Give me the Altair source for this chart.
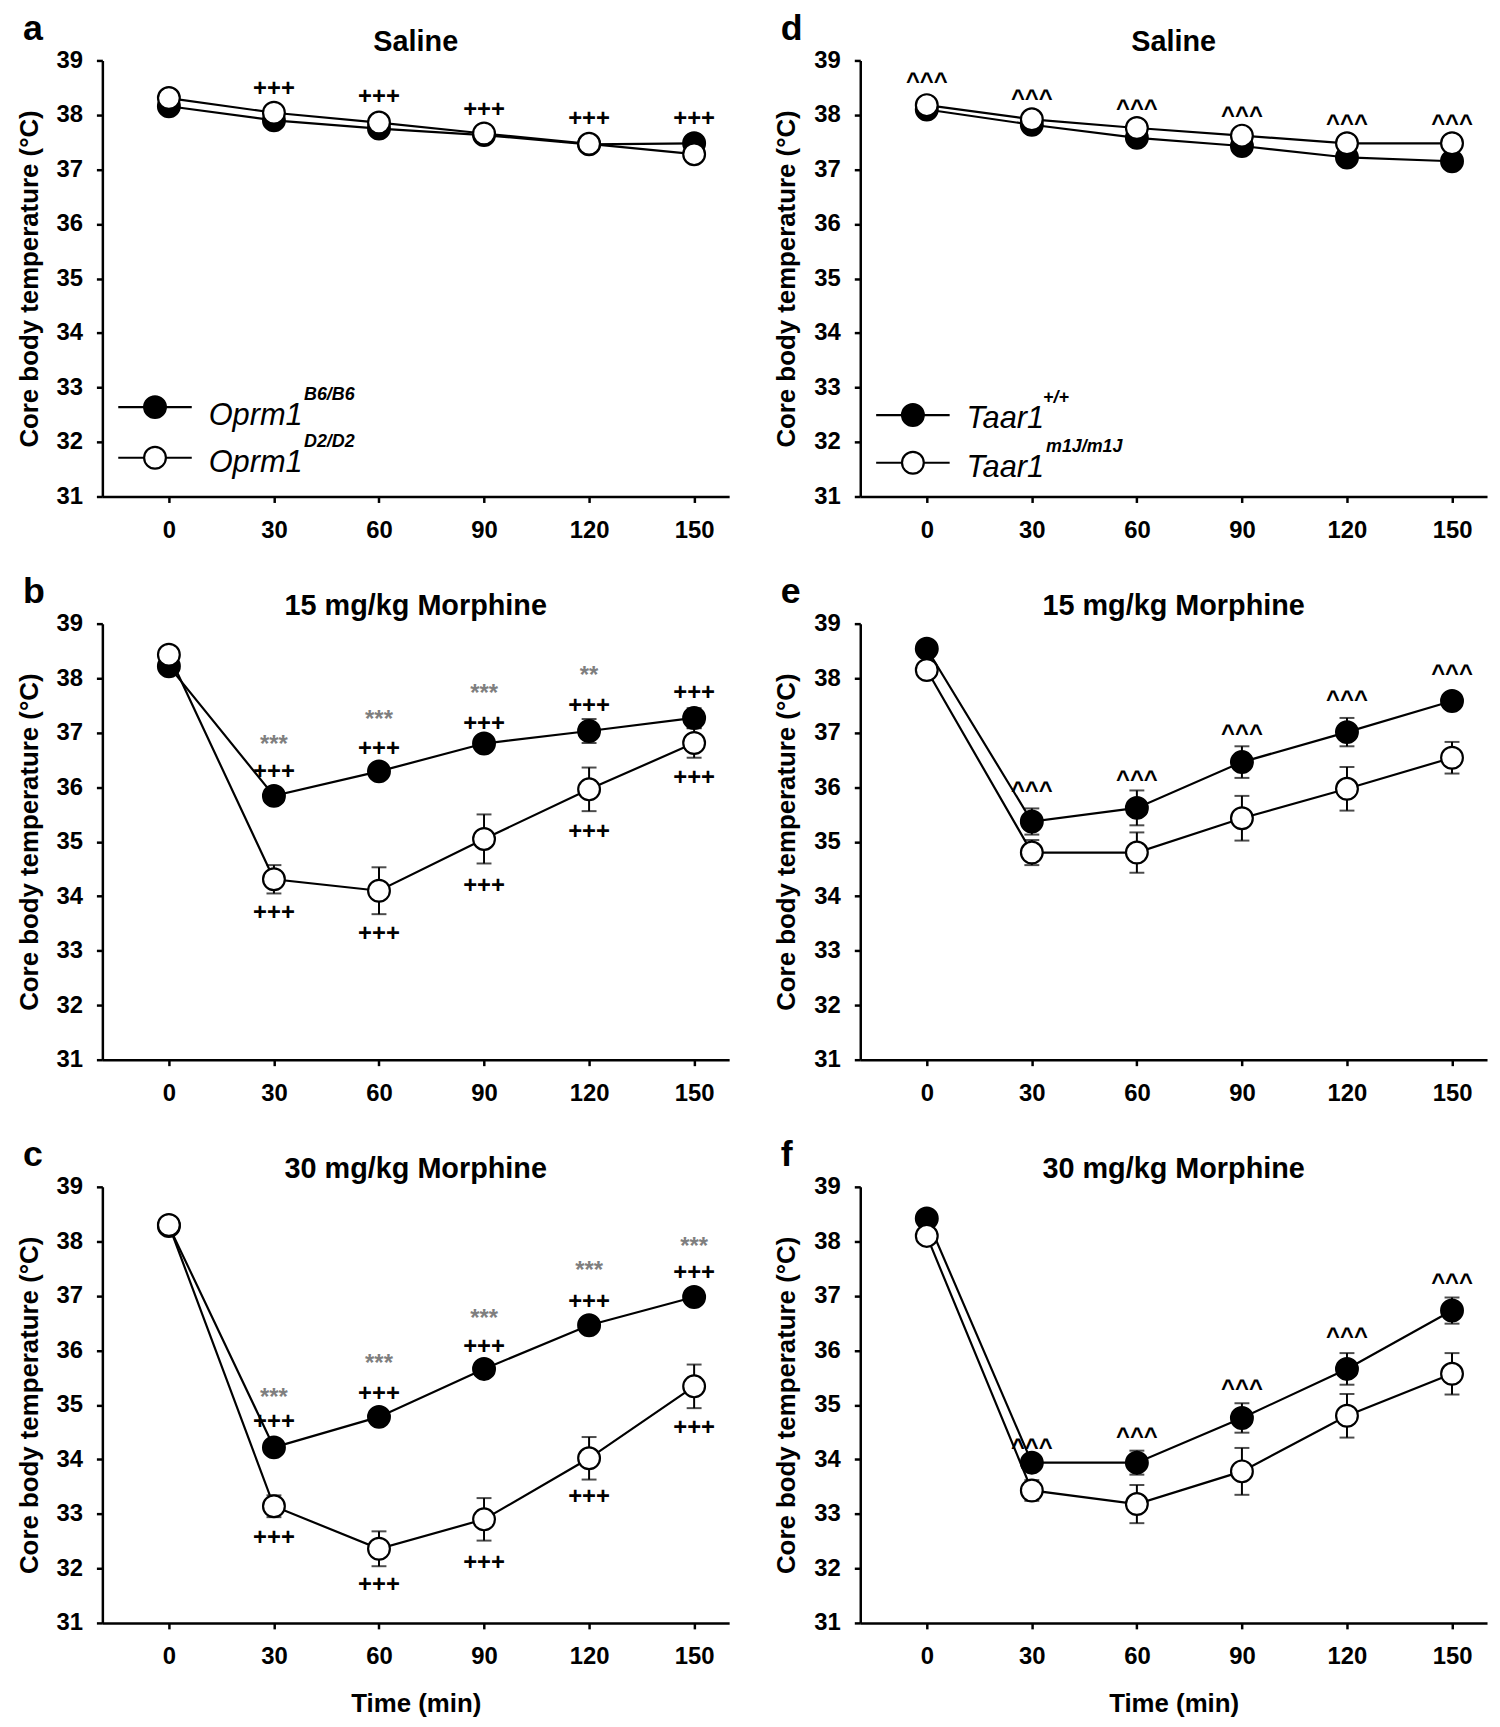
import altair as alt
import pandas as pd

FONT = "Liberation Sans"

times = [0, 30, 60, 90, 120, 150]
x_ticks = [0, 30, 60, 90, 120, 150]
y_ticks = [31, 32, 33, 34, 35, 36, 37, 38, 39]

# ---------------- Panel a : Saline, Oprm1 ----------------
a_black = [38.16, 37.90, 37.75, 37.63, 37.46, 37.48]
a_black_sem = [0.05, 0.05, 0.05, 0.05, 0.05, 0.06]
a_white = [38.31, 38.04, 37.86, 37.66, 37.47, 37.28]
a_white_sem = [0.05, 0.05, 0.05, 0.05, 0.05, 0.05]
a_plus_t = [30, 60, 90, 120, 150]
a_plus_y = [38.50, 38.34, 38.10, 37.94, 37.94]

# ---------------- Panel b : 15 mg/kg, Oprm1 ----------------
b_black = [38.22, 35.84, 36.29, 36.80, 37.03, 37.27]
b_black_sem = [0.05, 0.15, 0.12, 0.12, 0.22, 0.18]
b_white = [38.43, 34.31, 34.10, 35.05, 35.96, 36.81]
b_white_sem = [0.05, 0.26, 0.43, 0.45, 0.40, 0.27]
b_star_t = [30, 60, 90, 120]
b_star_y = [36.78, 37.24, 37.71, 38.04]
b_star_txt = ["***", "***", "***", "**"]
b_plus_up_t = [30, 60, 90, 120, 150]
b_plus_up_y = [36.29, 36.71, 37.17, 37.50, 37.75]
b_plus_dn_t = [30, 60, 90, 120, 150]
b_plus_dn_y = [33.71, 33.33, 34.21, 35.20, 36.19]

# ---------------- Panel c : 30 mg/kg, Oprm1 ----------------
c_black = [38.28, 34.22, 34.78, 35.66, 36.46, 36.98]
c_black_sem = [0.05, 0.12, 0.12, 0.12, 0.15, 0.12]
c_white = [38.30, 33.14, 32.36, 32.90, 34.02, 35.34]
c_white_sem = [0.05, 0.20, 0.32, 0.39, 0.39, 0.40]
c_star_t = [30, 60, 90, 120, 150]
c_star_y = [35.13, 35.75, 36.57, 37.45, 37.90]
c_star_txt = ["***", "***", "***", "***", "***"]
c_plus_up_t = [30, 60, 90, 120, 150]
c_plus_up_y = [34.70, 35.22, 36.08, 36.90, 37.43]
c_plus_dn_t = [30, 60, 90, 120, 150]
c_plus_dn_y = [32.58, 31.72, 32.12, 33.32, 34.59]

# ---------------- Panel d : Saline, Taar1 ----------------
d_black = [38.10, 37.82, 37.58, 37.43, 37.22, 37.15]
d_black_sem = [0.05, 0.05, 0.05, 0.05, 0.05, 0.05]
d_white = [38.18, 37.92, 37.76, 37.62, 37.48, 37.48]
d_white_sem = [0.05, 0.05, 0.05, 0.05, 0.05, 0.05]
d_caret_t = [0, 30, 60, 90, 120, 150]
d_caret_y = [38.69, 38.38, 38.20, 38.07, 37.92, 37.92]

# ---------------- Panel e : 15 mg/kg, Taar1 ----------------
e_black = [38.54, 35.37, 35.62, 36.46, 37.01, 37.58]
e_black_sem = [0.06, 0.24, 0.32, 0.29, 0.26, 0.10]
e_white = [38.15, 34.80, 34.80, 35.43, 35.97, 36.54]
e_white_sem = [0.06, 0.23, 0.37, 0.41, 0.40, 0.29]
e_caret_t = [30, 60, 90, 120, 150]
e_caret_y = [36.02, 36.23, 37.07, 37.69, 38.17]

# ---------------- Panel f : 30 mg/kg, Taar1 ----------------
f_black = [38.42, 33.94, 33.94, 34.76, 35.66, 36.73]
f_black_sem = [0.05, 0.10, 0.22, 0.27, 0.29, 0.24]
f_white = [38.10, 33.43, 33.18, 33.78, 34.80, 35.57]
f_white_sem = [0.05, 0.19, 0.35, 0.43, 0.40, 0.38]
f_caret_t = [30, 60, 90, 120, 150]
f_caret_y = [34.30, 34.51, 35.39, 36.34, 37.33]

oprm_labels = ["Oprm1", "Oprm1"]
oprm_sup = ["B6/B6", "D2/D2"]
taar_labels = ["Taar1", "Taar1"]
taar_sup = ["+/+", "m1J/m1J"]

W, H = 631, 439
XDOM = [-19, 160]
YDOM = [31, 39]
YTITLE = "Core body temperature (°C)"


def xenc(title):
    return alt.X(
        "t:Q",
        scale=alt.Scale(domain=XDOM, nice=False, zero=False),
        axis=alt.Axis(values=x_ticks, title=title),
    )


def yenc(field="v"):
    return alt.Y(
        f"{field}:Q",
        scale=alt.Scale(domain=YDOM, nice=False, zero=False),
        axis=alt.Axis(values=y_ticks, title=YTITLE),
    )


def text_layer(spec, xtitle):
    ts, ys, txts, size, color, dy = spec
    df = pd.DataFrame({"t": ts, "v": ys, "s": txts})
    return alt.Chart(df).mark_text(
        font=FONT, fontSize=size, fontWeight="bold", color=color,
        baseline="middle", align="center", dy=dy,
    ).encode(x=xenc(xtitle), y=yenc(), text="s:N")


def value_text(txt, x, y, size, weight="bold", style="normal", align="left",
               baseline="alphabetic"):
    df = pd.DataFrame({"s": [txt]})
    return alt.Chart(df).mark_text(
        font=FONT, fontSize=size, fontWeight=weight, fontStyle=style,
        align=align, baseline=baseline, color="black",
    ).encode(x=alt.value(x), y=alt.value(y), text="s:N")


def legend_layers(labels, sups, rows):
    layers = []
    fills = ["black", "white"]
    for i in range(2):
        ym, yb, xs = rows[i]
        df = pd.DataFrame({"k": [i]})
        layers.append(
            alt.Chart(df).mark_rule(color="black", strokeWidth=2.2).encode(
                x=alt.value(16), x2=alt.value(90), y=alt.value(ym)
            )
        )
        layers.append(
            alt.Chart(df).mark_point(
                shape="circle", size=480, fill=fills[i], stroke="black",
                strokeWidth=2.2, opacity=1, fillOpacity=1,
            ).encode(x=alt.value(53), y=alt.value(ym))
        )
        layers.append(value_text(labels[i], 107, yb, 31, weight="normal", style="italic"))
        layers.append(value_text(sups[i], xs, yb - 25, 18, weight="bold", style="italic"))
    return layers


def panel(letter, title, black, black_sem, white, white_sem, annots, legend=None,
          xtitle=None):
    rows = []
    for g, vals, sems in (("black", black, black_sem), ("white", white, white_sem)):
        for t, v, s in zip(times, vals, sems):
            rows.append({"g": g, "t": t, "v": v, "lo": v - s, "hi": v + s})
    df = pd.DataFrame(rows)
    base = alt.Chart(df)

    lines = base.mark_line(color="black", strokeWidth=2.2).encode(
        x=xenc(xtitle), y=yenc(), detail="g:N"
    )
    err = base.mark_rule(color="black", strokeWidth=2).encode(
        x=xenc(xtitle), y=yenc("lo"), y2="hi:Q"
    )
    cap_lo = base.mark_tick(color="black", orient="horizontal", size=15,
                            thickness=2).encode(x=xenc(xtitle), y=yenc("lo"))
    cap_hi = base.mark_tick(color="black", orient="horizontal", size=15,
                            thickness=2).encode(x=xenc(xtitle), y=yenc("hi"))
    pts_black = base.transform_filter(alt.datum.g == "black").mark_point(
        shape="circle", size=480, fill="black", stroke="black", strokeWidth=2.2,
        opacity=1, fillOpacity=1,
    ).encode(x=xenc(xtitle), y=yenc())
    pts_white = base.transform_filter(alt.datum.g == "white").mark_point(
        shape="circle", size=480, fill="white", stroke="black", strokeWidth=2.2,
        opacity=1, fillOpacity=1,
    ).encode(x=xenc(xtitle), y=yenc())

    layers = [lines, err, cap_lo, cap_hi, pts_black, pts_white]
    layers += [text_layer(s, xtitle) for s in annots]
    layers.append(value_text(letter, -80, -21, 36, weight="bold"))
    layers.append(value_text(title, W / 2, -9, 29, weight="bold", align="center"))
    if legend is not None:
        layers += legend
    return alt.layer(*layers).properties(width=W, height=H)


PLUS, STAR, CARET = 24, 24, 24
GRAY = "#7f7f7f"

pa = panel(
    "a", "Saline", a_black, a_black_sem, a_white, a_white_sem,
    [(a_plus_t, a_plus_y, ["+++"] * len(a_plus_t), PLUS, "black", 1)],
    legend=legend_layers(oprm_labels, oprm_sup,
                         [(349, 367, 203), (400, 414, 203)]),
)
pb = panel(
    "b", "15 mg/kg Morphine", b_black, b_black_sem, b_white, b_white_sem,
    [
        (b_star_t, b_star_y, b_star_txt, STAR, GRAY, 0),
        (b_plus_up_t, b_plus_up_y, ["+++"] * len(b_plus_up_t), PLUS, "black", 1),
        (b_plus_dn_t, b_plus_dn_y, ["+++"] * len(b_plus_dn_t), PLUS, "black", 1),
    ],
)
pc = panel(
    "c", "30 mg/kg Morphine", c_black, c_black_sem, c_white, c_white_sem,
    [
        (c_star_t, c_star_y, c_star_txt, STAR, GRAY, 0),
        (c_plus_up_t, c_plus_up_y, ["+++"] * len(c_plus_up_t), PLUS, "black", 1),
        (c_plus_dn_t, c_plus_dn_y, ["+++"] * len(c_plus_dn_t), PLUS, "black", 1),
    ],
    xtitle="Time (min)",
)
pd_ = panel(
    "d", "Saline", d_black, d_black_sem, d_white, d_white_sem,
    [(d_caret_t, d_caret_y, ["^^^"] * len(d_caret_t), CARET, "black", 5)],
    legend=legend_layers(taar_labels, taar_sup,
                         [(357, 370, 184), (405, 419, 187)]),
)
pe = panel(
    "e", "15 mg/kg Morphine", e_black, e_black_sem, e_white, e_white_sem,
    [(e_caret_t, e_caret_y, ["^^^"] * len(e_caret_t), CARET, "black", 5)],
)
pf = panel(
    "f", "30 mg/kg Morphine", f_black, f_black_sem, f_white, f_white_sem,
    [(f_caret_t, f_caret_y, ["^^^"] * len(f_caret_t), CARET, "black", 5)],
    xtitle="Time (min)",
)

chart = alt.concat(
    pa, pd_, pb, pe, pc, pf,
    columns=2,
    spacing={"row": 128, "column": 132},
    bounds="flush",
).configure(
    font=FONT,
    padding={"left": 8, "top": -3, "right": 5, "bottom": 5},
).configure_view(
    stroke=None,
).configure_axis(
    grid=False,
    domainColor="black",
    domainWidth=2.5,
    tickColor="black",
    tickWidth=2.5,
    tickSize=6,
    labelFont=FONT,
    labelFontSize=24,
    labelFontWeight="bold",
    labelColor="black",
    labelPadding=14,
    titleFont=FONT,
    titleFontSize=26,
    titleFontWeight="bold",
    titleColor="black",
    titlePadding=14,
).configure_axisX(
    labelPadding=16,
    titlePadding=22,
)

chart.save("out.html", embed_options={"renderer": "svg", "actions": False})
